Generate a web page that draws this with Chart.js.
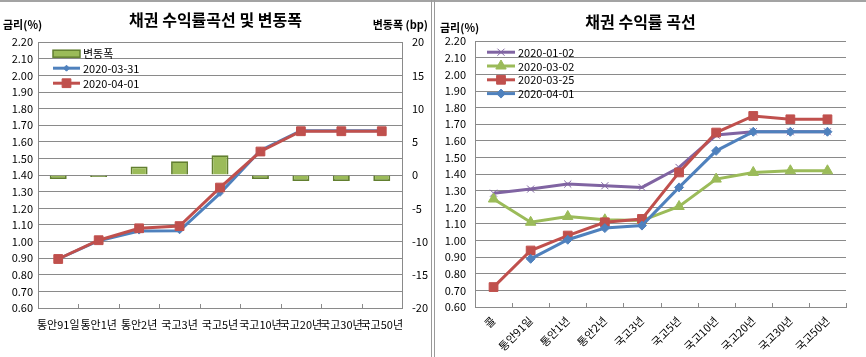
<!DOCTYPE html>
<html><head><meta charset="utf-8">
<script src="https://cdn.jsdelivr.net/npm/chart.js@4/dist/chart.umd.min.js"></script>
<style>
html,body{margin:0;padding:0;background:#fff;width:866px;height:357px;overflow:hidden}
#c1{position:absolute;left:0;top:0}
#c2{position:absolute;left:435px;top:0}
.vline{position:absolute;top:0;height:357px;width:1px;background:#9a9a9a}
.hline{position:absolute;left:0;top:0;width:866px;height:2px;background:#a3a3a3}
</style></head>
<body>
<canvas id="c1" width="431" height="357"></canvas>
<canvas id="c2" width="431" height="357"></canvas>
<div class="hline"></div>
<div class="vline" style="left:431px"></div>
<div class="vline" style="left:434px"></div>
<script>
// ---- Left chart data ----
const leftCategories = ['통안91일','통안1년','통안2년','국고3년','국고5년','국고10년','국고20년','국고30년','국고50년'];
const changeBp   = [-0.6, -0.3, 1.3, 2.1, 3.0, -0.6, -0.9, -0.9, -0.9];
const yield0331  = [0.895, 1.005, 1.063, 1.065, 1.29, 1.548, 1.667, 1.667, 1.667];
const yield0401L = [0.895, 1.008, 1.08, 1.093, 1.325, 1.542, 1.664, 1.664, 1.664];
const leftYTicks  = [0.6, 2.2, 0.1];
const rightYTicks = [-20, 20, 5];

// ---- Right chart data ----
const rightCategories = ['콜','통안91일','통안1년','통안2년','국고3년','국고5년','국고10년','국고20년','국고30년','국고50년'];
const y0102 = [1.285, 1.31, 1.34, 1.33, 1.32, 1.44, 1.635, 1.655, 1.655, 1.655];
const y0302 = [1.25, 1.11, 1.145, 1.125, 1.12, 1.205, 1.37, 1.41, 1.42, 1.42];
const y0325 = [0.72, 0.94, 1.03, 1.11, 1.13, 1.41, 1.65, 1.75, 1.73, 1.73];
const y0401 = [null, 0.89, 1.005, 1.075, 1.09, 1.32, 1.54, 1.655, 1.655, 1.655];

const FONT = '"Noto Sans CJK KR", "Noto Sans", sans-serif';
const GRID = '#8a8a8a';
const BLUE = '#4F81BD', RED = '#C0504D', GREEN = '#9BBB59', PURPLE = '#8064A2';

const innerTicks = {
  id: 'innerTicks',
  afterDatasetsDraw(chart) {
    const sx = chart.scales.x, ctx = chart.ctx, n = chart.data.labels.length;
    ctx.save(); ctx.strokeStyle = GRID; ctx.lineWidth = 1;
    for (let i = 0; i <= n; i++) {
      const x = Math.round(sx.getPixelForValue(i - 0.5)) + 0.5;
      ctx.beginPath(); ctx.moveTo(x, sx.top - 4); ctx.lineTo(x, sx.top); ctx.stroke();
    }
    ctx.restore();
  }
};

const inlineLegend = {
  id: 'inlineLegend',
  afterDraw(chart, args, o) {
    const ctx = chart.ctx, ca = chart.chartArea;
    ctx.save();
    chart.data.datasets.forEach((ds, i) => {
      const y = ca.top + o.top + i * o.gap;
      const x0 = ca.left + o.left, x1 = x0 + o.len;
      if (ds.type === 'bar') {
        ctx.fillStyle = ds.backgroundColor; ctx.strokeStyle = ds.borderColor; ctx.lineWidth = 1.5;
        ctx.fillRect(x0, y - 3, o.len, 7); ctx.strokeRect(x0, y - 3, o.len, 7);
      } else {
        ctx.strokeStyle = ds.borderColor; ctx.lineWidth = ds.borderWidth;
        ctx.beginPath(); ctx.moveTo(x0, y); ctx.lineTo(x1, y); ctx.stroke();
        ctx.fillStyle = ds.pointBackgroundColor; ctx.strokeStyle = ds.pointBorderColor; ctx.lineWidth = ds.pointBorderWidth;
        Chart.helpers.drawPoint(ctx, {pointStyle: ds.pointStyle, radius: ds.pointRadius, borderWidth: ds.pointBorderWidth, rotation: 0}, (x0 + x1) / 2, y);
      }
      ctx.fillStyle = '#000'; ctx.font = '11px ' + FONT; ctx.textBaseline = 'middle'; ctx.textAlign = 'left';
      ctx.fillText(ds.label, x1 + 3, y + 0.5);
    });
    ctx.restore();
  }
};

const unitLabels = {
  id: 'unitLabels',
  afterDraw(chart, args, o) {
    const ctx = chart.ctx;
    ctx.save(); ctx.fillStyle = '#000'; ctx.font = 'bold 11px ' + FONT; ctx.textBaseline = 'middle';
    (o.items || []).forEach(it => { ctx.textAlign = it.align; ctx.fillText(it.text, it.x, it.y); });
    ctx.restore();
  }
};

function lineDs(label, data, color, style, radius, axis, order) {
  return { type: 'line', label, data, borderColor: color, backgroundColor: color, borderWidth: 3,
    pointStyle: style, pointRadius: radius, pointHoverRadius: radius, pointBackgroundColor: color,
    pointBorderColor: color, pointBorderWidth: 1, tension: 0, yAxisID: axis, order, spanGaps: false };
}

const tickFont = { family: FONT, size: 11 };

new Chart(document.getElementById('c1'), {
  data: {
    labels: leftCategories,
    datasets: [
      { type: 'bar', label: '변동폭', data: changeBp, backgroundColor: GREEN, borderColor: '#627f30',
        borderWidth: 1.8, barPercentage: 0.42, categoryPercentage: 1, yAxisID: 'y2', order: 3 },
      lineDs('2020-03-31', yield0331, BLUE, 'rectRot', 3, 'y', 2),
      lineDs('2020-04-01', yield0401L, RED, 'rect', 6.2, 'y', 1)
    ]
  },
  options: {
    responsive: false, animation: false, events: [],
    layout: { padding: { left: 0, right: 0, top: 0, bottom: 0 } },
    plugins: {
      legend: { display: false }, tooltip: { enabled: false },
      title: { display: true, text: '채권 수익률곡선 및 변동폭', color: '#000',
        font: { family: FONT, size: 16, weight: 'bold', lineHeight: 1.2 }, padding: { top: 10, bottom: 13 } },
      inlineLegend: { top: 11, left: 15, len: 27, gap: 15 },
      unitLabels: { items: [ { text: '금리(%)', x: 3, y: 25, align: 'left' }, { text: '변동폭 (bp)', x: 428, y: 25, align: 'right' } ] }
    },
    scales: {
      x: { offset: true, grid: { drawOnChartArea: false, drawTicks: false }, border: { display: true, color: GRID },
        ticks: { color: '#000', font: tickFont, maxRotation: 0, minRotation: 0, autoSkip: false, padding: 10 },
        afterFit: s => { s.height = 49; } },
      y: { position: 'left', min: leftYTicks[0], max: leftYTicks[1],
        ticks: { stepSize: leftYTicks[2], color: '#000', font: tickFont, padding: 5, callback: v => Number(v).toFixed(2) },
        grid: { color: GRID, drawTicks: false }, border: { display: true, color: GRID },
        afterFit: s => { s.width = 38; } },
      y2: { position: 'right', min: rightYTicks[0], max: rightYTicks[1],
        ticks: { stepSize: rightYTicks[2], color: '#000', font: tickFont, padding: 10 },
        grid: { drawOnChartArea: false, drawTicks: false }, border: { display: true, color: GRID },
        afterFit: s => { s.width = 29; } }
    }
  },
  plugins: [innerTicks, inlineLegend, unitLabels]
});

new Chart(document.getElementById('c2'), {
  data: {
    labels: rightCategories,
    datasets: [
      lineDs('2020-01-02', y0102, PURPLE, 'crossRot', 5, 'y', 4),
      lineDs('2020-03-02', y0302, GREEN, 'triangle', 6, 'y', 3),
      lineDs('2020-03-25', y0325, RED, 'rect', 6.2, 'y', 2),
      lineDs('2020-04-01', y0401, BLUE, 'rectRot', 4.5, 'y', 1)
    ]
  },
  options: {
    responsive: false, animation: false, events: [],
    layout: { padding: { left: 0, right: 20, top: 0, bottom: 0 } },
    plugins: {
      legend: { display: false }, tooltip: { enabled: false },
      title: { display: true, text: '채권 수익률 곡선', color: '#000',
        font: { family: FONT, size: 16, weight: 'bold', lineHeight: 1.2 }, padding: { top: 12, bottom: 10 } },
      inlineLegend: { top: 11, left: 12, len: 28, gap: 13.8 },
      unitLabels: { items: [ { text: '금리(%)', x: 5, y: 28, align: 'left' } ] }
    },
    scales: {
      x: { type: 'category', offset: true, grid: { drawOnChartArea: false, drawTicks: false }, border: { display: true, color: GRID },
        ticks: { color: '#000', font: tickFont, maxRotation: 45, minRotation: 45, autoSkip: false, padding: 7 },
        afterFit: s => { s.height = 50; } },
      y: { position: 'left', min: leftYTicks[0], max: leftYTicks[1],
        ticks: { stepSize: leftYTicks[2], color: '#000', font: tickFont, padding: 9, callback: v => Number(v).toFixed(2) },
        grid: { color: GRID, drawTicks: false }, border: { display: true, color: GRID },
        afterFit: s => { s.width = 40; } }
    }
  },
  plugins: [innerTicks, inlineLegend, unitLabels]
});
</script>
</body></html>
